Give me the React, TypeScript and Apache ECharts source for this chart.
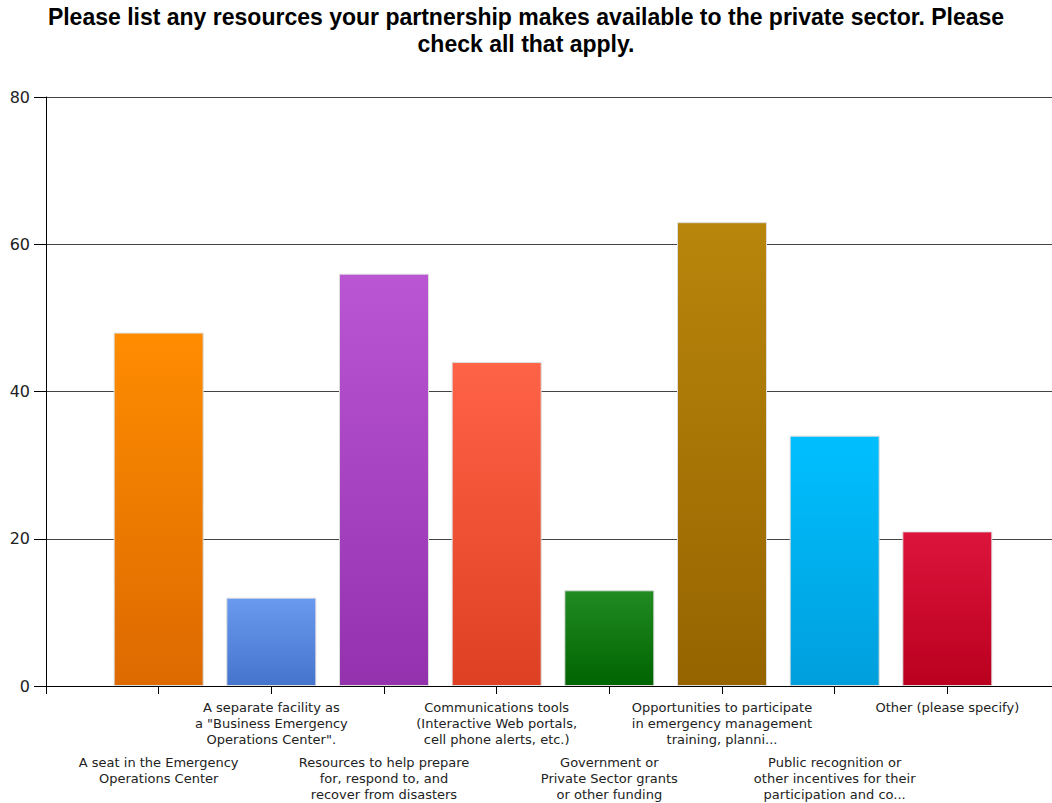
import React, { useEffect, useRef } from "react";
import * as echarts from "echarts";

const TITLE = "Please list any resources your partnership makes available to the private sector. Please\ncheck all that apply.";

const categories = [
  "A seat in the Emergency\nOperations Center",
  "A separate facility as\na \"Business Emergency\nOperations Center\".",
  "Resources to help prepare\nfor, respond to, and\nrecover from disasters",
  "Communications tools\n(Interactive Web portals,\ncell phone alerts, etc.)",
  "Government or\nPrivate Sector grants\nor other funding",
  "Opportunities to participate\nin emergency management\ntraining, planni...",
  "Public recognition or\nother incentives for their\nparticipation and co...",
  "Other (please specify)",
];

const values = [48, 12, 56, 44, 13, 63, 34, 21];

const topColors = ["#FF8C00", "#6A9AEF", "#BA55D3", "#FF6347", "#228B22", "#B8860B", "#00BFFF", "#DC143C"];
const bottomColors = ["#DC6A00", "#4474CC", "#9432AE", "#DD4022", "#006400", "#966400", "#009FDC", "#BA001F"];

const yTicks = [0, 20, 40, 60, 80];

export default function App() {
  const ref = useRef<HTMLDivElement>(null);
  useEffect(() => {
    if (!ref.current) return;
    const chart = echarts.init(ref.current, null, { renderer: "svg" });
    const xData = ["", ...categories, ""];
    const barData: any[] = ["-"];
    values.forEach((v, i) => {
      barData.push({
        value: v,
        itemStyle: {
          color: new echarts.graphic.LinearGradient(0, 0, 0, 1, [
            { offset: 0, color: topColors[i] },
            { offset: 1, color: bottomColors[i] },
          ]),
          borderColor: "#dddddd",
          borderWidth: 1,
        },
      });
    });
    barData.push("-");
    chart.setOption({
      animation: false,
      backgroundColor: "#ffffff",
      title: {
        text: TITLE,
        left: "center",
        top: 3,
        padding: 0,
        textStyle: {
          fontFamily: "Liberation Sans, Arial, sans-serif",
          fontWeight: "bold",
          fontSize: 23,
          lineHeight: 27,
          color: "#000",
        },
      },
      grid: {
        left: 46,
        right: -8,
        top: 97,
        bottom: 117,
        containLabel: false,
        outerBoundsMode: "none",
      },
      xAxis: {
        type: "category",
        data: xData,
        boundaryGap: false,
        axisLine: { lineStyle: { color: "#000", width: 1 } },
        axisTick: { show: true, length: 8, interval: 0, lineStyle: { color: "#000" } },
        axisLabel: {
          interval: 0,
          margin: 13,
          fontFamily: "DejaVu Sans, sans-serif",
          fontSize: 13,
          lineHeight: 16,
          color: "#222",
          align: "center",
          formatter: (val: string, idx: number) => {
            if (!val) return "";
            if (idx % 2 === 1) return "{sp| }\n" + val;
            return val;
          },
          rich: {
            sp: { lineHeight: 55, fontSize: 13 },
          },
        },
        splitLine: { show: false },
      },
      yAxis: {
        type: "value",
        min: yTicks[0],
        max: yTicks[yTicks.length - 1],
        interval: 20,
        axisLine: { show: true, lineStyle: { color: "#000", width: 1 } },
        axisTick: { show: true, length: 12, lineStyle: { color: "#000" } },
        axisLabel: {
          margin: 16,
          fontFamily: "DejaVu Sans, sans-serif",
          fontSize: 16,
          color: "#222",
        },
        splitLine: { show: true, lineStyle: { color: "#444", width: 1 } },
      },
      series: [
        {
          type: "bar",
          data: barData,
          barWidth: 90,
        },
      ],
    });
    return () => chart.dispose();
  }, []);
  return (
    <div
      ref={ref}
      style={{ position: "absolute", left: 0, top: 0, width: 1052, height: 803, overflow: "hidden" }}
    />
  );
}
